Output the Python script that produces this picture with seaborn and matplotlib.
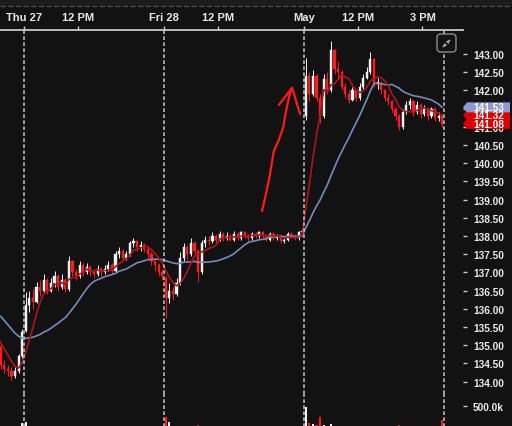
import numpy as np
import pandas as pd
import matplotlib
matplotlib.use("Agg")
import matplotlib.pyplot as plt
import matplotlib.transforms as mtransforms
from matplotlib.patches import Polygon, FancyBboxPatch, Rectangle, FancyArrowPatch
from matplotlib.lines import Line2D
import seaborn as sns

# ---- data: 10 minute bars ----
# closes before the visible window (only feed the moving averages)
wed_warmup = [136.7, 136.6, 136.5, 136.55, 136.45, 136.35, 136.2, 136.0, 135.95, 135.8,
              135.7, 135.6, 135.55, 135.5, 135.4, 135.3, 135.2, 135.15, 134.95]

day_opens = [134.95, 135.4, 136.85, 141.3]

wed_close = [134.45, 134.35, 134.3, 134.15, 134.3, 134.7, 135.35]
wed_high = [135.0, 134.6, 134.45, 134.4, 134.4, 134.75, 135.45]
wed_low = [134.35, 134.25, 134.15, 134.05, 134.1, 134.25, 134.65]
wed_vol = [30, 25, 30, 35, 30, 45, 140]

thu_close = [136.1, 136.3, 136.2, 136.6, 136.5, 136.8, 136.5, 136.7, 136.9, 136.6,
             136.8, 136.55, 137.3, 137.0, 136.9, 137.2, 137.0, 137.15, 137.0, 136.95,
             137.1, 137.0, 137.1, 137.2, 137.05, 137.5, 137.6, 137.4, 137.5, 137.8,
             137.85, 137.7, 137.75, 137.65, 137.5, 137.3, 137.2, 137.0, 136.9]
thu_high = [136.45, 136.5, 136.55, 136.75, 136.8, 136.95, 136.85, 136.85, 137.05, 136.95,
            136.95, 136.85, 137.45, 137.35, 137.1, 137.3, 137.25, 137.25, 137.2, 137.1,
            137.2, 137.15, 137.2, 137.3, 137.25, 137.6, 137.7, 137.65, 137.6, 137.85,
            137.95, 137.9, 137.85, 137.8, 137.7, 137.55, 137.35, 137.25, 137.1]
thu_low = [135.35, 135.9, 136.0, 136.15, 136.35, 136.45, 136.4, 136.45, 136.6, 136.5,
           136.55, 136.45, 136.5, 136.9, 136.8, 136.85, 136.9, 136.95, 136.9, 136.85,
           136.9, 136.9, 136.95, 137.05, 136.95, 137.0, 137.4, 137.3, 137.35, 137.45,
           137.7, 137.6, 137.6, 137.55, 137.4, 137.2, 137.05, 136.9, 136.8]
thu_vol = [150, 60, 40, 35, 30, 30, 25, 25, 30, 25,
           25, 20, 45, 30, 25, 20, 20, 20, 20, 20,
           20, 20, 20, 20, 20, 30, 30, 25, 25, 35,
           30, 25, 20, 25, 25, 30, 30, 35, 45]

fri_close = [136.3, 136.5, 136.4, 136.7, 137.4, 137.7, 137.5, 137.8, 137.6, 137.0,
             137.8, 137.9, 137.85, 138.0, 137.9, 138.05, 137.95, 138.0, 137.9, 138.05,
             137.95, 138.1, 138.0, 137.95, 138.05, 138.0, 138.1, 138.0, 137.9, 138.05,
             137.95, 138.0, 137.85, 137.9, 138.05, 138.0, 137.95, 138.1, 138.15]
fri_high = [136.9, 136.7, 136.6, 136.85, 137.55, 137.8, 137.75, 137.95, 137.85, 137.65,
            137.9, 138.0, 138.0, 138.1, 138.05, 138.15, 138.1, 138.1, 138.05, 138.15,
            138.1, 138.15, 138.15, 138.05, 138.1, 138.1, 138.15, 138.15, 138.05, 138.1,
            138.1, 138.05, 138.05, 138.0, 138.1, 138.1, 138.05, 138.15, 138.2]
fri_low = [135.75, 136.15, 136.25, 136.35, 136.65, 137.3, 137.35, 137.45, 137.5, 136.75,
           136.95, 137.7, 137.75, 137.8, 137.8, 137.85, 137.85, 137.9, 137.85, 137.85,
           137.9, 137.9, 137.95, 137.85, 137.9, 137.95, 137.95, 137.95, 137.85, 137.85,
           137.9, 137.9, 137.8, 137.8, 137.85, 137.95, 137.9, 137.9, 138.0]
fri_vol = [260, 150, 60, 45, 55, 40, 30, 35, 30, 90,
           45, 30, 25, 25, 20, 20, 20, 20, 20, 20,
           20, 20, 20, 20, 20, 20, 20, 20, 20, 20,
           20, 20, 20, 20, 25, 25, 30, 35, 50]

may_close = [142.4, 141.9, 142.4, 141.8, 141.3, 142.3, 142.0, 143.1, 142.6, 142.5,
             142.1, 141.9, 141.75, 142.0, 141.8, 142.1, 142.35, 142.5, 142.85, 142.2,
             142.2, 142.0, 141.8, 141.7, 141.5, 141.3, 141.0, 141.4, 141.6, 141.7,
             141.4, 141.6, 141.35, 141.5, 141.3, 141.5, 141.25, 141.3, 141.08]
may_high = [142.9, 142.5, 142.55, 142.45, 141.9, 142.45, 142.5, 143.35, 143.15, 142.8,
            142.55, 142.2, 142.0, 142.1, 142.05, 142.2, 142.45, 142.65, 143.05, 142.9,
            142.35, 142.25, 142.05, 141.9, 141.75, 141.55, 141.35, 141.5, 141.7, 141.8,
            141.75, 141.7, 141.65, 141.6, 141.55, 141.55, 141.55, 141.4, 141.35]
may_low = [141.2, 141.7, 141.85, 141.7, 141.1, 141.25, 141.9, 141.95, 142.45, 142.3,
           142.0, 141.8, 141.65, 141.7, 141.7, 141.75, 142.05, 142.3, 142.45, 142.1,
           142.05, 141.9, 141.7, 141.6, 141.4, 141.2, 140.9, 140.95, 141.35, 141.5,
           141.3, 141.35, 141.25, 141.3, 141.2, 141.25, 141.15, 141.15, 141.0]
may_vol = [480, 120, 100, 80, 260, 90, 70, 110, 75, 60,
           50, 45, 40, 40, 35, 35, 40, 45, 55, 50,
           40, 40, 35, 35, 40, 45, 80, 50, 40, 35,
           40, 35, 30, 30, 35, 30, 35, 40, 200]

tick_pos = [0, 150, 390, 540, 780, 930, 1110]
tick_text = ["Thu 27", "12 PM", "Fri 28", "12 PM", "May", "12 PM", "3 PM"]
day_breaks = [0, 390, 780, 1170]
price_ticks = np.arange(134.0, 143.01, 0.5)

# ---- build frame (minutes since Thu open) ----
BAR = 10
session_starts = [-70, 0, 390, 780]
sessions = [(wed_close, wed_high, wed_low, wed_vol),
            (thu_close, thu_high, thu_low, thu_vol),
            (fri_close, fri_high, fri_low, fri_vol),
            (may_close, may_high, may_low, may_vol)]
rows = []
for start, first_open, (c, h, l, v) in zip(session_starts, day_opens, sessions):
    prev = first_open
    for i in range(len(c)):
        rows.append(dict(t=start + BAR * i + BAR / 2, open=prev, high=h[i],
                         low=l[i], close=c[i], volume=v[i]))
        prev = c[i]
df = pd.DataFrame(rows)

warm_t = [session_starts[0] - BAR * (len(wed_warmup) - i) + BAR / 2 for i in range(len(wed_warmup))]
all_t = np.array(warm_t + list(df.t))
all_close = pd.Series(wed_warmup + list(df.close))
ma_slow = all_close.rolling(20).mean()
ma_fast = all_close.rolling(6).mean()

# ---- style ----
BG = "#121212"
UP = "#f2f2f2"
DOWN = "#ff1b1b"
BLUE = "#7a89bb"
DARKRED = "#b0141a"
AXC = "#c8c8c8"

sns.set_theme(style="dark", rc={"axes.facecolor": BG, "figure.facecolor": BG,
                                "savefig.facecolor": BG})
plt.rcParams["font.family"] = ["Liberation Sans", "DejaVu Sans"]

W, H = 512, 427
fig = plt.figure(figsize=(W / 100, H / 100), dpi=100)

def fx(px):
    return px / W

def fy(py):
    return (H - py) / H

ax = fig.add_axes([0, fy(395), fx(463), (395 - 31) / H])
axv = fig.add_axes([0, fy(430), fx(463), 35 / H])

# top strip
fig.add_artist(Rectangle((0, fy(7)), 1, 7 / H, transform=fig.transFigure,
                         facecolor="#1c1c1c", edgecolor="none", zorder=0))
fig.add_artist(Line2D([0, 1], [fy(7), fy(7)], transform=fig.transFigure,
                      color="#4a4a4a", lw=1, linestyle=(0, (4, 1.5))))

xmin, xmax = -24 * 390 / 140, 439 * 390 / 140
pmin, pmax = 143 - 340 / 36.4, 143 + 24 / 36.4

# candles
up = df.close >= df.open
colors = np.where(up, UP, DOWN)
ax.vlines(df.t, df.low, df.high, colors=colors, lw=0.7, zorder=2)
body = (df.close - df.open).abs().clip(lower=0.02)
ax.bar(df.t, body, bottom=df[["open", "close"]].min(axis=1), width=6,
       color=colors, edgecolor=colors, linewidth=0.3, zorder=3)

# moving averages
ok = ma_slow.notna()
sns.lineplot(x=all_t[ok], y=ma_slow[ok].values, ax=ax, color=BLUE, lw=1.2,
             estimator=None, sort=False, zorder=4)
ok = ma_fast.notna()
sns.lineplot(x=all_t[ok], y=ma_fast[ok].values, ax=ax, color=DARKRED, lw=1.2,
             estimator=None, sort=False, zorder=4)

# day separators
for a in (ax, axv):
    for b in day_breaks:
        a.axvline(b, color="#b8b8b8", lw=1.2, linestyle=(0, (2.2, 1.4)), zorder=5)

# hand drawn arrow
arrow_t = [663, 674, 685, 696, 710, 722, 730, 741, 747]
arrow_p = [138.69, 139.15, 139.68, 140.34, 140.64, 140.99, 141.43, 141.93, 142.07]
ax.plot(arrow_t, arrow_p, color="#ff1a1a", lw=1.6, solid_capstyle="round",
        solid_joinstyle="round", zorder=6)
ax.plot([710, 747, 769], [141.6, 142.07, 141.35], color="#ff1a1a", lw=1.6,
        solid_capstyle="round", solid_joinstyle="round", zorder=6)

ax.set_xlim(xmin, xmax)
ax.set_ylim(pmin, pmax)
ax.xaxis.set_ticks_position("top")
ax.set_xticks(tick_pos)
ax.set_xticklabels(tick_text)
ax.yaxis.tick_right()
ax.set_yticks(price_ticks)
ax.set_yticklabels([f"{v:.2f}" for v in price_ticks])
ax.tick_params(axis="x", direction="out", length=3, width=1, color=AXC,
               labelcolor="#e8e8e8", labelsize=8, pad=3)
ax.tick_params(axis="y", direction="out", length=3, width=1, color=AXC,
               labelcolor="#e8e8e8", labelsize=7.3, pad=4.3)
for lab in ax.get_xticklabels() + ax.get_yticklabels():
    lab.set_fontweight("bold")
for s in ["left", "right", "bottom"]:
    ax.spines[s].set_visible(False)
ax.spines["top"].set_color(AXC)
ax.spines["top"].set_linewidth(1.3)
ax.set_xlabel("")
ax.set_ylabel("")

# volume
axv.bar(df.t, df.volume, width=6, color=colors, linewidth=0, zorder=2)
axv.set_xlim(xmin, xmax)
axv.set_ylim(0, 500 * 35 / 23)
axv.set_xticks([])
axv.yaxis.tick_right()
axv.set_yticks([500])
axv.set_yticklabels([f"{500:.1f}k"])
axv.tick_params(axis="y", direction="out", length=3, width=1, color=AXC,
                labelcolor="#e8e8e8", labelsize=7.3, pad=4.3)
for lab in axv.get_yticklabels():
    lab.set_fontweight("bold")
for s in axv.spines.values():
    s.set_visible(False)
axv.set_facecolor("none")

# last-value tags on the price scale
trans = mtransforms.blended_transform_factory(ax.transAxes, ax.transData)

def price_tag(value, color):
    h = 5 / 36.4
    pts = [(1.0, value), (467 / 463, value + h), (510 / 463, value + h),
           (510 / 463, value - h), (467 / 463, value - h)]
    ax.add_patch(Polygon(pts, closed=True, transform=trans, facecolor=color,
                         edgecolor="none", clip_on=False, zorder=10))
    ax.text(473 / 463, value, f"{value:.2f}", transform=trans, color="white",
            fontsize=7.3, fontweight="bold", va="center", ha="left",
            clip_on=False, zorder=11)

price_tag(df.close.iloc[-1], "#e00000")
price_tag(ma_fast.iloc[-1], "#e00000")
price_tag(ma_slow.iloc[-1], "#8a9bd3")

# expand icon at the top right
fig.add_artist(FancyBboxPatch((fx(437), fy(53)), fx(19), 18 / H,
                              boxstyle="round,pad=0,rounding_size=0.008",
                              transform=fig.transFigure, fill=True,
                              facecolor=BG, edgecolor="#8c8c8c", lw=1.0, zorder=20))
for p0, p1 in [((447.5, 43.5), (452, 39)), ((445.5, 45.5), (441, 50))]:
    fig.add_artist(FancyArrowPatch((fx(p0[0]), fy(p0[1])), (fx(p1[0]), fy(p1[1])),
                                   transform=fig.transFigure, arrowstyle="-|>",
                                   mutation_scale=4, color="#b0b0b0", lw=0.8,
                                   zorder=21))

fig.savefig("out.png", dpi=100, facecolor=BG)
